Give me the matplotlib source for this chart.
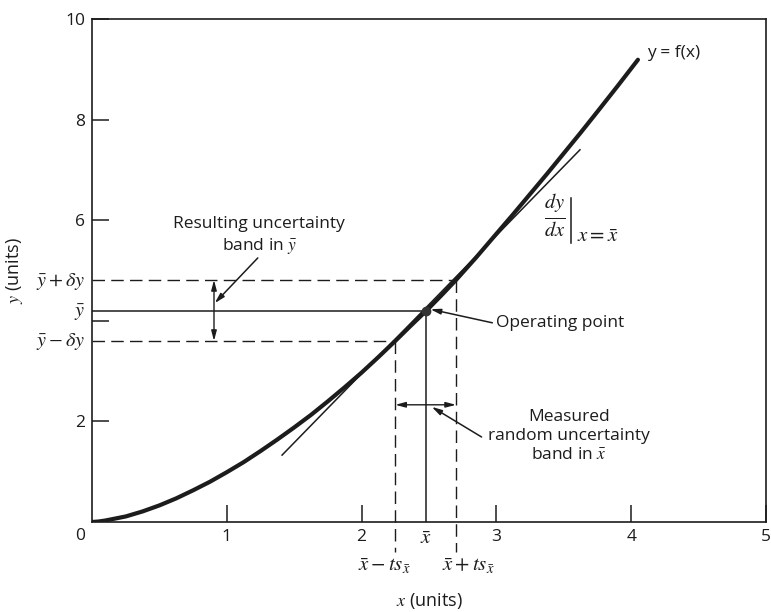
import matplotlib
matplotlib.use("Agg")
import matplotlib.pyplot as plt

plt.rcParams['font.family'] = ['Open Sans', 'DejaVu Sans']
plt.rcParams['mathtext.fontset'] = 'stix'

# curve y = f(x)
curve_x = [0.0, 0.05, 0.1, 0.25, 0.375, 0.5, 0.625, 0.75, 0.875, 1.0, 1.125, 1.25,
           1.375, 1.5, 1.625, 1.75, 1.875, 2.0, 2.125, 2.25, 2.36, 2.48, 2.59, 2.70,
           2.85, 3.0, 3.125, 3.25, 3.375, 3.5, 3.625, 3.75, 3.9, 4.05]
curve_y = [0.0, 0.01, 0.03, 0.11, 0.21, 0.33, 0.47, 0.63, 0.80, 0.99, 1.19, 1.41,
           1.64, 1.88, 2.13, 2.40, 2.68, 2.97, 3.28, 3.60, 3.89, 4.20, 4.50, 4.81,
           5.26, 5.73, 6.12, 6.52, 6.92, 7.33, 7.74, 8.16, 8.67, 9.19]

# tangent at the operating point
tangent_x = [1.41, 3.62]
tangent_y = [1.33, 7.40]

# operating point and uncertainty bands
x_bar, y_bar = 2.48, 4.20
x_lo, x_hi = 2.25, 2.70
y_lo, y_hi = 3.60, 4.81

x_ticks = [1, 2, 3, 4, 5]
x_ticklabels = ['1', '2', '3', '4', '5']
y_ticks = [2, 4, 6, 8, 10]
y_ticklabels = ['2', '', '6', '8', '10']

ink = '#1c1c1c'

fig = plt.figure(figsize=(7.71, 6.12), dpi=100)
ax = fig.add_axes([92 / 771, 90 / 612, 674 / 771, 503 / 612])
ax.set_xlim(0, 5)
ax.set_ylim(0, 10)

for s in ax.spines.values():
    s.set_color(ink)
    s.set_linewidth(1.2)

ax.set_xticks(x_ticks)
ax.set_xticklabels(x_ticklabels)
ax.set_yticks(y_ticks)
ax.set_yticklabels(y_ticklabels)
ax.tick_params(direction='in', length=12, width=1.1, colors=ink, labelsize=12.5, pad=5)

# main curve and tangent
ax.plot(curve_x, curve_y, color=ink, lw=3.0, solid_capstyle='round',
        solid_joinstyle='round')
ax.plot(tangent_x, tangent_y, color=ink, lw=1.1)

# operating point guides
ax.plot([0, x_bar], [y_bar, y_bar], color=ink, lw=1.1)
ax.plot([x_bar, x_bar], [0, y_bar], color=ink, lw=1.1)
ax.plot(x_bar, y_bar, 'o', color='#333333', ms=6, zorder=5)

dash = (0, (9, 4.5))
ax.plot([0, x_hi], [y_hi, y_hi], color=ink, lw=1.0, linestyle=dash)
ax.plot([0, x_lo], [y_lo, y_lo], color=ink, lw=1.0, linestyle=dash)
ax.plot([x_hi, x_hi], [y_hi, -0.6], color=ink, lw=1.0, linestyle=dash, clip_on=False)
ax.plot([x_lo, x_lo], [y_lo, -0.6], color=ink, lw=1.0, linestyle=dash, clip_on=False)

# double arrows for the bands
dbl = dict(arrowstyle='<|-|>,head_length=0.6,head_width=0.16', color=ink, lw=1.0,
           shrinkA=0, shrinkB=0)
ax.annotate('', xy=(0.905, y_hi), xytext=(0.905, y_lo), arrowprops=dbl)
ax.annotate('', xy=(x_lo, 2.33), xytext=(x_hi, 2.33), arrowprops=dbl)

ptr = dict(arrowstyle='-|>,head_length=0.6,head_width=0.16', color=ink, lw=1.1,
           shrinkA=0, shrinkB=0)
ax.annotate('', xy=(0.91, 4.35), xytext=(1.23, 5.25), arrowprops=ptr)
ax.annotate('', xy=(2.51, 4.23), xytext=(2.97, 3.96), arrowprops=ptr)
ax.annotate('', xy=(2.52, 2.29), xytext=(2.89, 1.69), arrowprops=ptr)

# annotations
fs = 12.5
ax.text(1.24, 5.69, 'Resulting uncertainty\nband in $\\bar{y}$', ha='center', va='center',
        fontsize=fs, color=ink, linespacing=1.3)
ax.text(3.0, 3.96, 'Operating point', ha='left', va='center', fontsize=fs, color=ink)
ax.text(3.54, 1.71, 'Measured\nrandom uncertainty\nband in $\\bar{x}$', ha='center',
        va='center', fontsize=fs, color=ink, linespacing=1.25)
ax.text(4.12, 9.32, 'y = f(x)', ha='left', va='center', fontsize=fs, color=ink)

ax.text(3.43, 6.10, r'$\frac{dy}{dx}$', ha='center', va='center', fontsize=21, color=ink)
ax.plot([3.555, 3.555], [5.55, 6.45], color=ink, lw=1.1)
ax.text(3.60, 5.67, r'$x = \bar{x}$', ha='left', va='center', fontsize=15, color=ink)

# extra axis labels
ax.text(-0.05, -0.12, '0', ha='right', va='top', fontsize=12.5, color=ink)
ax.text(x_bar, -0.12, r'$\bar{x}$', ha='center', va='top', fontsize=15, color=ink)
ax.text(2.17, -0.87, r'$\bar{x} - ts_{\bar{x}}$', ha='center', va='center',
        fontsize=15, color=ink)
ax.text(2.79, -0.87, r'$\bar{x} + ts_{\bar{x}}$', ha='center', va='center',
        fontsize=15, color=ink)

ax.text(-0.05, 4.79, r'$\bar{y} + \delta y$', ha='right', va='center', fontsize=14.5, color=ink)
ax.text(-0.05, 4.17, r'$\bar{y}$', ha='right', va='center', fontsize=14.5, color=ink)
ax.text(-0.05, 3.58, r'$\bar{y} - \delta y$', ha='right', va='center', fontsize=14.5, color=ink)

ax.set_xlabel(r'$x$ (units)', fontsize=13, color=ink)
ax.xaxis.set_label_coords(0.5, -0.157)
ax.xaxis.label.set_va('center')
ax.set_ylabel(r'$y$ (units)', fontsize=13, color=ink)
ax.yaxis.set_label_coords(-0.10, 0.5)

fig.savefig('out.png', dpi=100)
